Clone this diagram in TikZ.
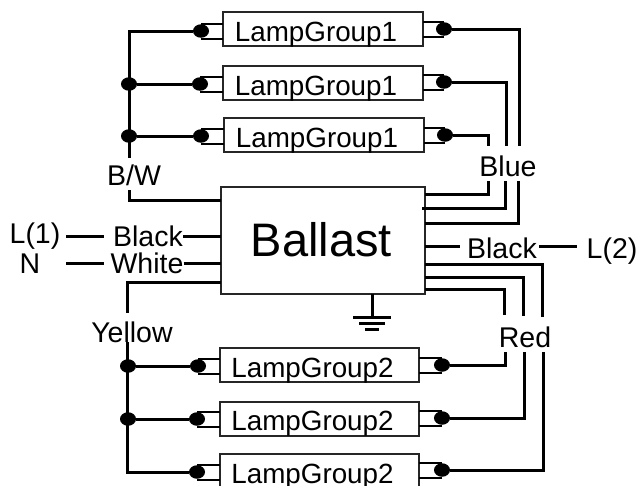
\documentclass[tikz,border=0pt]{standalone}
\usepackage{fontspec}
\setmainfont{Liberation Sans}
\usetikzlibrary{shapes.geometric}
\tikzset{
  x=1pt,y=-1pt,
  wire/.style={line width=3pt,black},
  pin/.style={line width=2pt,black},
  lamp/.style={draw=black!85,line width=2pt,inner sep=0pt,outer sep=0pt,font=\fontsize{27.8}{28}\selectfont,text height=24pt,text depth=0pt},
  ballast/.style={draw=black!85,line width=2pt,inner sep=0pt,outer sep=0pt,font=\fontsize{47}{47}\selectfont,text height=33pt,text depth=0pt},
  dot/.style={ellipse,fill=black,inner sep=0pt,minimum width=16pt,minimum height=13.5pt},
  lab/.style={inner sep=0pt,font=\fontsize{28.5}{28.5}\selectfont,text height=20pt,text depth=0pt},
}
\newcommand\pinL[2]{%
  \path ([yshift=7.5pt]#2.center) coordinate (#2t) ([yshift=-7.5pt]#2.center) coordinate (#2b);
  \draw[pin] (#2t) -- (#1.west |- #2t) (#2b) -- (#1.west |- #2b);}
\newcommand\pinR[2]{%
  \path ([yshift=7.5pt]#2.center) coordinate (#2t) ([yshift=-7.5pt]#2.center) coordinate (#2b);
  \draw[pin] (#2t) -- (#1.east |- #2t) (#2b) -- (#1.east |- #2b);}
\begin{document}
\begin{tikzpicture}
\useasboundingbox (0,0) rectangle (639,485);
% boxes
\node[lamp,minimum width=200pt,minimum height=34pt] (a1) at (323,29) {LampGroup1\kern14pt\relax};
\node[lamp,minimum width=200pt,minimum height=34pt] (a2) at (323,83) {LampGroup1\kern14pt\relax};
\node[lamp,minimum width=200pt,minimum height=34pt] (a3) at (324,135) {LampGroup1\kern14pt\relax};
\node[ballast,minimum width=204pt,minimum height=107pt] (B) at (323,240) {Ballast\kern3pt\relax};
\node[lamp,minimum width=199pt,minimum height=34pt] (c1) at (319.5,365) {LampGroup2\kern14pt\relax};
\node[lamp,minimum width=199pt,minimum height=34pt] (c2) at (319.5,418.5) {LampGroup2\kern14pt\relax};
\node[lamp,minimum width=199pt,minimum height=34pt] (c3) at (319.5,471) {LampGroup2\kern14pt\relax};
% terminal dots
\node[dot] (al1) at (201,31) {};
\node[dot] (al2) at (200,84) {};
\node[dot] (al3) at (201,136) {};
\node[dot] (ar1) at (444,29) {};
\node[dot] (ar2) at (444,82) {};
\node[dot] (ar3) at (445,135) {};
\node[dot] (cl1) at (198,366) {};
\node[dot] (cl2) at (197,419) {};
\node[dot] (cl3) at (197,472) {};
\node[dot] (cr1) at (442,365) {};
\node[dot] (cr2) at (442,418) {};
\node[dot] (cr3) at (442,470) {};
\node[dot] (j1) at (129,84) {};
\node[dot] (j2) at (129,136) {};
\node[dot] (j3) at (128,366) {};
\node[dot] (j4) at (128,419) {};
\pinL{a1}{al1}\pinL{a2}{al2}\pinL{a3}{al3}
\pinR{a1}{ar1}\pinR{a2}{ar2}\pinR{a3}{ar3}
\pinL{c1}{cl1}\pinL{c2}{cl2}\pinL{c3}{cl3}
\pinR{c1}{cr1}\pinR{c2}{cr2}\pinR{c3}{cr3}
% labels
\node[lab] (bw) at (134,175) {B/W};
\node[lab] (blue) at (508,166) {Blue};
\node[lab] (l1) at (35,233) {L(1)};
\node[lab] (n) at (30,263) {N};
\node[lab] (blk) at (148,236) {Black};
\node[lab] (wht) at (147,263) {White};
\node[lab] (blk2) at (502,248) {Black};
\node[lab] (l2) at (612,248) {L(2)};
\node[lab] (red) at (525,337) {Red};
\node[lab] (yel) at (132,332) {Yellow};
% B/W bus
\coordinate (t1) at (129,158);
\coordinate (t2) at (129,190);
\draw[wire] (al1) -- (j1 |- al1) -- (t1);
\draw[wire] (j1) -- (al2);
\draw[wire] (j2) -- (al3);
\draw[wire] (t2) |- (B.west |- 0,200);
% Blue
\coordinate (u1) at (488,146);\coordinate (u2) at (506,146);\coordinate (u3) at (519,146);
\coordinate (v1) at (488,181);\coordinate (v2) at (505,181);\coordinate (v3) at (518,181);
\draw[wire] (ar3) -| (u1);
\draw[wire] (ar2) -| (u2);
\draw[wire] (ar1) -| (u3);
\draw[wire] (v1) |- (B.east |- 0,194);
\draw[wire] (v2) |- ([xshift=-3pt]B.east |- 0,208);
\draw[wire] (v3) |- (B.east |- 0,223);
% mains
\coordinate (m1) at (66,236);\coordinate (m2) at (104,236);
\coordinate (m3) at (66,263);\coordinate (m4) at (104,263);
\draw[wire] (m1) -- (m2);
\draw[wire] (m3) -- (m4);
\draw[wire] (blk.east) -- (B.west |- blk.east);
\draw[wire] (wht.east) -- (B.west |- wht.east);
\coordinate (m5) at (425,246);\coordinate (m6) at (460,246);
\coordinate (m7) at (539,246);\coordinate (m8) at (577,246);
\draw[wire] (m5) -- (m6);
\draw[wire] (m7) -- (m8);
% Red
\coordinate (r1) at (504,315);\coordinate (r2) at (523,316);\coordinate (r3) at (542,317);
\coordinate (s1) at (505,352);\coordinate (s2) at (524,352);\coordinate (s3) at (543,352);
\draw[wire] (B.east |- 0,289) -| (r1);
\draw[wire] (B.east |- 0,277) -| (r2);
\draw[wire] (B.east |- 0,264) -| (r3);
\draw[wire] (cr1) -| (s1);
\draw[wire] (cr2) -| (s2);
\draw[wire] (cr3) -| (s3);
% Yellow bus
\coordinate (y1) at (127,313);\coordinate (y2) at (127,342);
\draw[wire] (B.west |- 0,282) -| (y1);
\draw[wire] (y2) |- (cl3);
\draw[wire] (j3) -- (cl1);
\draw[wire] (j4) -- (cl2);
% ground
\coordinate (g0) at (372,317);
\draw[wire] (B.south -| g0) -- (g0);
\draw[wire] (353,317) -- (391,317);
\draw[wire] (359,323) -- (385,323);
\draw[wire] (365,329) -- (379,329);
\end{tikzpicture}
\end{document}
